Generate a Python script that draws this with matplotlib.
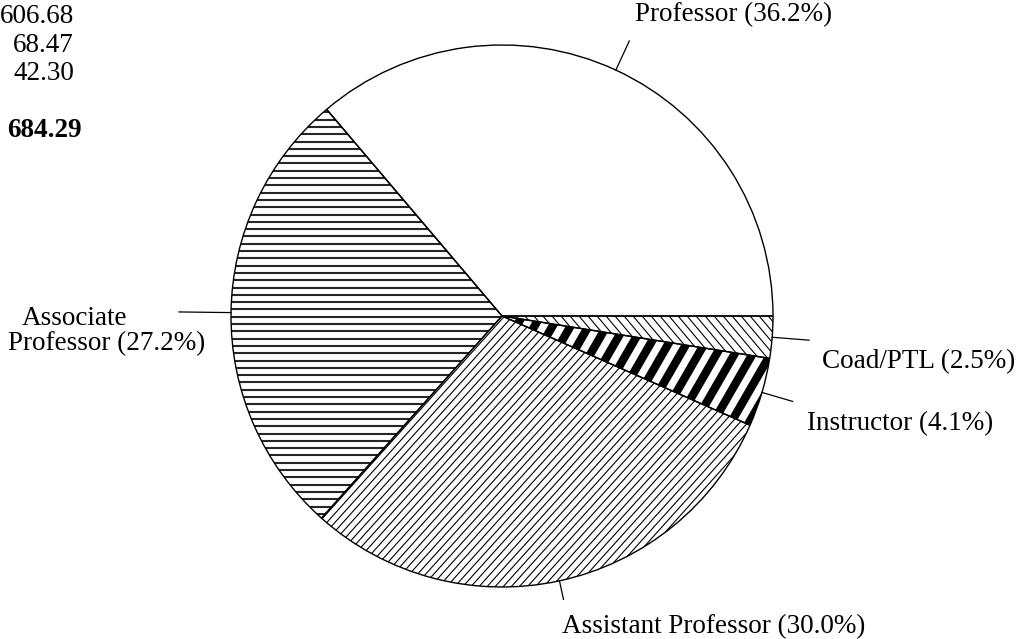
import numpy as np
import matplotlib
matplotlib.use('Agg')
import matplotlib.pyplot as plt
import matplotlib.patches as pch
from matplotlib.collections import LineCollection

labels = ['Professor (36.2%)', 'Associate\nProfessor (27.2%)',
          'Assistant Professor (30.0%)', 'Instructor (4.1%)', 'Coad/PTL (2.5%)']
shares = [36.2, 27.2, 30.0, 4.1, 2.5]
totals = ['606.68', '68.47', '42.30']
grand_total = '684.29'

plt.rcParams['font.family'] = ['Liberation Serif', 'DejaVu Serif']
FS = 19.5

fig = plt.figure(figsize=(10.3, 6.39), dpi=100)
ax = fig.add_axes([0, 0, 1, 1])

cx, cy, R = 502, 316, 271
# y axis is flipped (pixel coords), so clockwise in data = counter-clockwise on screen
wedges, _ = ax.pie(shares, center=(cx, cy), radius=R, startangle=0,
                   counterclock=False,
                   wedgeprops=dict(fc='white', ec='none'))
ax.set_xlim(0, 1030)
ax.set_ylim(639, 0)
ax.axis('off')


def stripes(wedge, angle, gap, lw, color='k'):
    t = np.deg2rad(angle)
    d = np.array([np.cos(t), -np.sin(t)])
    n = np.array([-d[1], d[0]])
    segs = []
    for k in np.arange(-700, 700, gap):
        p = np.array([cx, cy]) + n * k
        segs.append([p - d * 900, p + d * 900])
    lc = LineCollection(segs, colors=color, linewidths=lw, zorder=2)
    lc.set_clip_path(wedge)
    ax.add_collection(lc, autolim=False)


# hatch styles: Associate, Assistant, Instructor, Coad
stripes(wedges[1], 0, 7.3, 1.5, '0.15')
stripes(wedges[2], 48, 6.0, 0.8)
stripes(wedges[3], 60, 15.6, 6.0)
stripes(wedges[4], 130, 6.9, 0.8)

for w in wedges:
    ax.add_patch(pch.Wedge(w.center, w.r, w.theta1, w.theta2, fill=False,
                           ec='k', lw=1.0, zorder=3))

# leader lines from wedge mid-angles
lead = [32, 52, 19, 32, 37]
for w, L in zip(wedges, lead):
    a = np.deg2rad((w.theta1 + w.theta2) / 2)
    r0, r1 = R, R + L
    ax.plot([cx + r0 * np.cos(a), cx + r1 * np.cos(a)],
            [cy + r0 * np.sin(a), cy + r1 * np.sin(a)], color='k', lw=0.9, zorder=3)

ax.text(635, 21, labels[0], fontsize=FS, va='baseline')
ax.text(22, 325, labels[1].split('\n')[0], fontsize=FS, va='baseline')
ax.text(8, 350, labels[1].split('\n')[1], fontsize=FS, va='baseline')
ax.text(562, 633, labels[2], fontsize=FS, va='baseline')
ax.text(807, 430, labels[3], fontsize=FS, va='baseline')
ax.text(822, 368, labels[4], fontsize=FS, va='baseline')

for v, y in zip(totals, [23, 52, 80]):
    ax.text(74, y, v, fontsize=FS, ha='right', va='baseline')
ax.text(82, 137, grand_total, fontsize=FS, ha='right', va='baseline', weight='bold')

fig.savefig('out.png', dpi=100, facecolor='white')
